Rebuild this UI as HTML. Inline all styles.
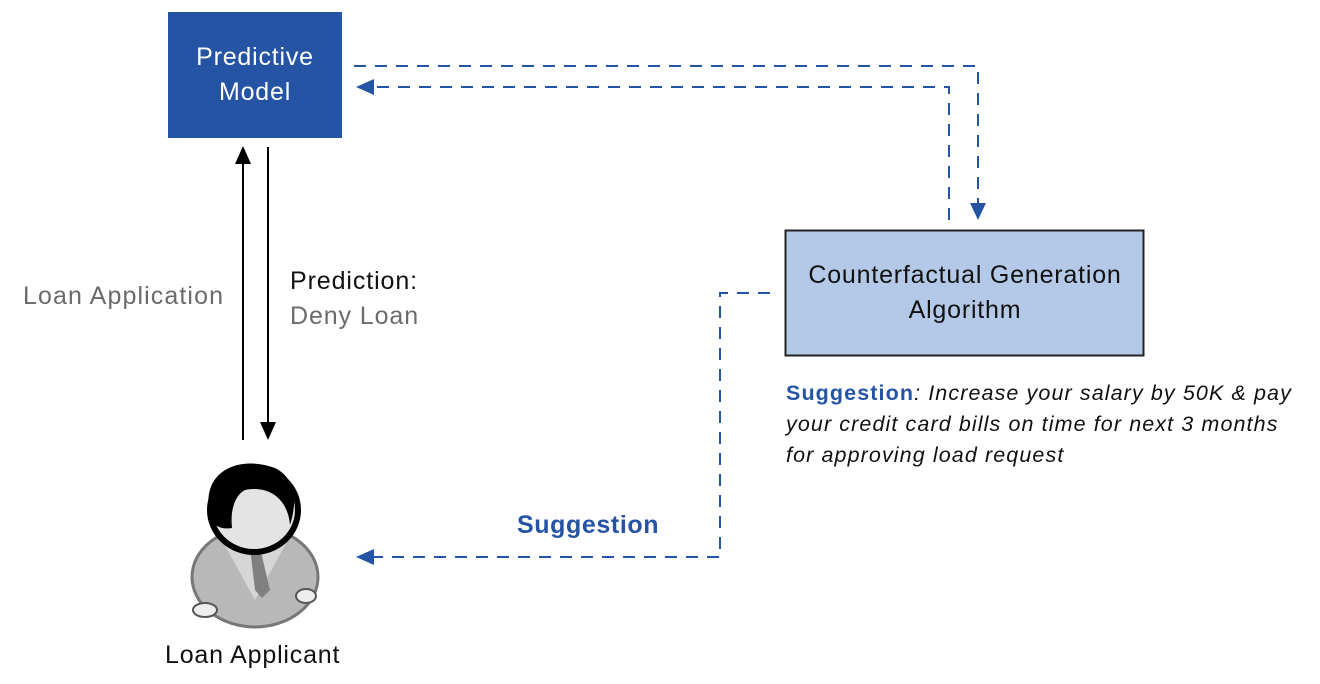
<!DOCTYPE html>
<html><head><style>
body{margin:0;width:1320px;height:684px;background:#fff;overflow:hidden;position:relative;font-family:"Liberation Sans",sans-serif}
.t{position:absolute;white-space:nowrap}
</style></head><body>
<svg width="1320" height="684" style="position:absolute;left:0;top:0">
<rect x="168" y="12" width="174" height="126" fill="#2554a5"/>
<rect x="785.5" y="230.5" width="358" height="125" fill="#b3c9e7" stroke="#222" stroke-width="2"/>
<g stroke="#2554a5" stroke-width="2" fill="none" stroke-dasharray="12,9">
<path d="M354 66 H978 V205"/>
<path d="M949 220 V87 H372"/>
<path d="M770 293 H720 V557 H372"/>
</g>
<g fill="#2554a5">
<polygon points="356,87 374,79 374,95"/>
<polygon points="978,220 970,203 986,203"/>
<polygon points="356,557 374,549 374,565"/>
</g>
<g stroke="#000" stroke-width="2">
<line x1="243" y1="440" x2="243" y2="160"/>
<line x1="268" y1="147" x2="268" y2="426"/>
</g>
<polygon points="243,146 235,164 251,164" fill="#000"/>
<polygon points="268,440 260,422 276,422" fill="#000"/>
<!-- person -->
<ellipse cx="255" cy="577" rx="63" ry="50" fill="#b8b8b8" stroke="#777" stroke-width="3"/>
<path d="M222 540 L255 600 L288 540 Z" fill="#d6d6d6"/>
<path d="M250 548 L260 548 L270 590 L262 598 L255 590 Z" fill="#808080"/>
<ellipse cx="205" cy="610" rx="12" ry="7" fill="#eee" stroke="#555" stroke-width="2"/>
<ellipse cx="306" cy="596" rx="10" ry="7" fill="#eee" stroke="#555" stroke-width="2"/>
<ellipse cx="254" cy="510" rx="44" ry="42" fill="#e4e4e4" stroke="#000" stroke-width="6"/>
<path d="M210 515 C200 470 240 455 275 468 C295 478 298 500 290 525 C288 500 270 485 245 490 C235 495 230 510 232 528 C220 530 212 525 210 515 Z" fill="#000"/>
</svg>
<div class="t" style="left:158px;top:40px;width:194px;text-align:center;color:#fff;font-size:25px;line-height:35px;letter-spacing:0.8px">Predictive<br>Model</div>
<div class="t" style="left:775px;top:258px;width:380px;text-align:center;color:#111;font-size:25px;line-height:35px;letter-spacing:0.8px">Counterfactual Generation<br>Algorithm</div>
<div class="t" style="left:23px;top:282px;color:#6b6b6b;font-size:25px;letter-spacing:1.1px">Loan Application</div>
<div class="t" style="left:290px;top:264px;color:#111;font-size:25px;line-height:35px;letter-spacing:0.9px">Prediction:<br><span style="color:#6b6b6b">Deny Loan</span></div>
<div class="t" style="left:517px;top:511px;color:#2554a5;font-size:25px;font-weight:bold;letter-spacing:0.6px">Suggestion</div>
<div class="t" style="left:165px;top:641px;color:#111;font-size:25px;letter-spacing:0.8px">Loan Applicant</div>
<div class="t" style="left:786px;top:378px;color:#111;font-size:21.5px;line-height:31px;font-style:italic;letter-spacing:1.1px"><span style="color:#2554a5;font-weight:bold;font-style:normal">Suggestion</span>: Increase your salary by 50K &amp; pay<br>your credit card bills on time for next 3 months<br>for approving load request</div>
</body></html>
